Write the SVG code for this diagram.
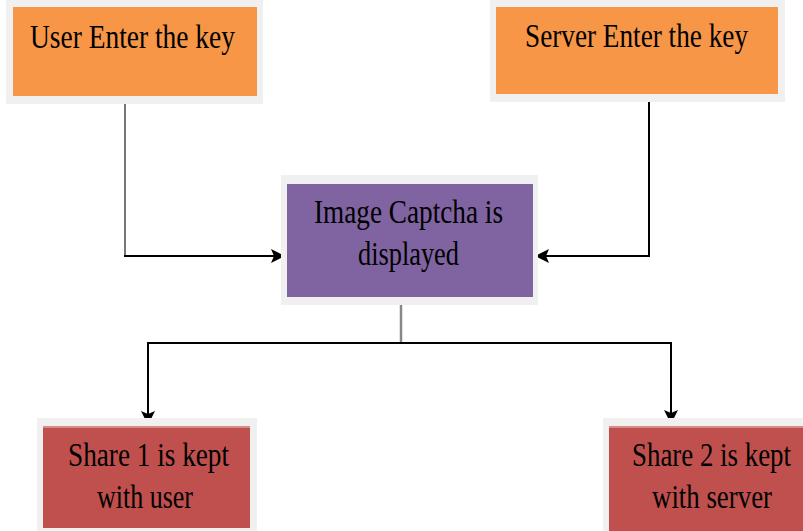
<svg xmlns="http://www.w3.org/2000/svg" width="803" height="531" viewBox="0 0 803 531">
<style>
.frame{fill:#f0f0f0}
.t{font-family:"Liberation Serif","Times New Roman",serif;font-size:33px;fill:#000}
.ln{fill:none;stroke:#000;stroke-width:2}
</style>
<defs>
<marker id="ah" markerWidth="14" markerHeight="14" refX="13" refY="7" orient="auto" markerUnits="userSpaceOnUse" viewBox="0 0 14 14">
<path d="M0,0 L14,7 L0,14 L3,7 Z" fill="#000"/>
</marker>
</defs>
<rect width="803" height="531" fill="#fff"/>
<g id="connectors">
<path d="M125,100 L125,256" fill="none" stroke="#777" stroke-width="2"/>
<path class="ln" d="M124,256 L284,256" marker-end="url(#ah)"/>
<path class="ln" d="M649,96 L649,256 L536,256" marker-end="url(#ah)"/>
<path d="M401,300 L401,343" fill="none" stroke="#888" stroke-width="2.5"/>
<path class="ln" d="M148,343 L671,343"/>
<path class="ln" d="M148,342 L148,424" marker-end="url(#ah)"/>
<path class="ln" d="M671,342 L671,423" marker-end="url(#ah)"/>
</g>
<g id="user">
<rect class="frame" x="6" y="0" width="257" height="104"/>
<rect x="13" y="7" width="244" height="89" fill="#f79646"/>
<text class="t" x="30" y="48" textLength="205" lengthAdjust="spacingAndGlyphs">User Enter the key</text>
</g>
<g id="server">
<rect class="frame" x="490" y="0" width="295" height="102"/>
<rect x="496" y="7" width="282" height="87" fill="#f79646"/>
<text class="t" x="525" y="47" textLength="223" lengthAdjust="spacingAndGlyphs">Server Enter the key</text>
</g>
<g id="captcha">
<rect class="frame" x="281" y="175" width="257" height="130"/>
<rect x="287" y="184" width="246" height="113" fill="#8064a2"/>
<text class="t" x="314" y="223" textLength="189" lengthAdjust="spacingAndGlyphs">Image Captcha is</text>
<text class="t" x="358" y="265" textLength="101" lengthAdjust="spacingAndGlyphs">displayed</text>
</g>
<g id="share1">
<rect class="frame" x="37" y="418" width="220" height="113"/>
<rect x="43" y="426" width="207" height="102" fill="#c0504d"/>
<rect x="43" y="426" width="207" height="2" fill="#d98b89"/>
<text class="t" x="68" y="466" textLength="161" lengthAdjust="spacingAndGlyphs">Share 1 is kept</text>
<text class="t" x="97" y="508" textLength="96" lengthAdjust="spacingAndGlyphs">with user</text>
</g>
<g id="share2">
<rect class="frame" x="603" y="418" width="200" height="113"/>
<rect x="609" y="426" width="194" height="105" fill="#c0504d"/>
<rect x="609" y="426" width="194" height="2" fill="#d98b89"/>
<text class="t" x="632" y="466" textLength="159" lengthAdjust="spacingAndGlyphs">Share 2 is kept</text>
<text class="t" x="652" y="508" textLength="120" lengthAdjust="spacingAndGlyphs">with server</text>
</g>
</svg>
